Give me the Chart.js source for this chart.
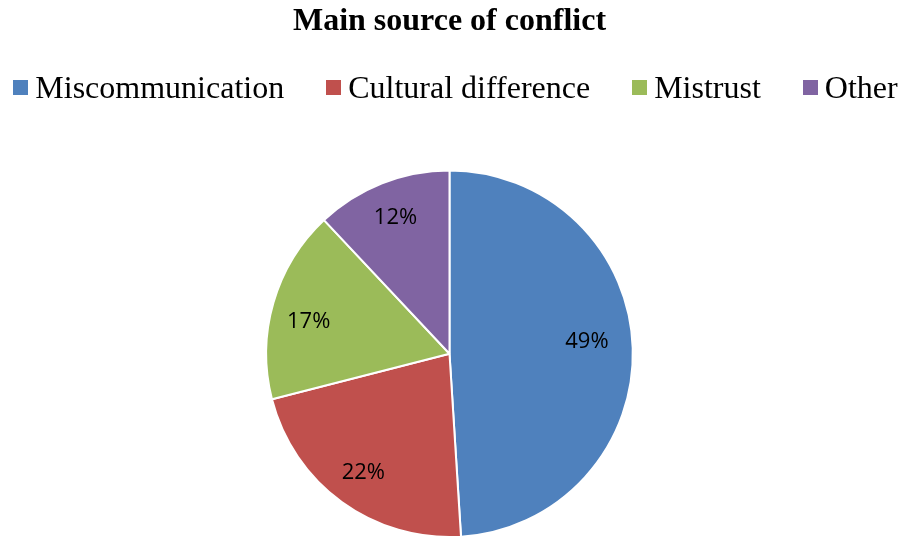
<!DOCTYPE html>
<html>
<head>
<meta charset="utf-8">
<script src="https://cdn.jsdelivr.net/npm/chart.js@4/dist/chart.umd.min.js"></script>
<style>
  html, body { margin: 0; padding: 0; background: #fff; }
  #wrap { position: relative; width: 903px; height: 538px; }
  #legend {
    position: absolute; left: 0; right: 0; top: 71px;
    display: flex; justify-content: center; gap: 42px;
    font: 32px/32px 'Liberation Serif', serif; color: #000;
    padding-left: 8px;
  }
  #legend span.item { display: flex; align-items: center; white-space: nowrap; }
  #legend span.box { display: inline-block; width: 15px; height: 15px; margin-right: 7px; }
</style>
</head>
<body>
<div id="wrap">
  <canvas id="pie"></canvas>
  <div id="legend"></div>
</div>
<script>
var sources = ["Miscommunication", "Cultural difference", "Mistrust", "Other"];
var shares = [49, 22, 17, 12];
var colours = ["#4F81BD", "#C0504D", "#9BBB59", "#8064A2"];

// legend row under the title
var legendBox = document.getElementById("legend");
sources.forEach(function (name, i) {
    var item = document.createElement("span");
    item.className = "item";
    var box = document.createElement("span");
    box.className = "box";
    box.style.background = colours[i];
    item.appendChild(box);
    item.appendChild(document.createTextNode(name));
    legendBox.appendChild(item);
});

// percent text inside each slice
var sliceLabels = {
    id: "sliceLabels",
    afterDatasetsDraw: function (chart) {
        var ctx = chart.ctx;
        var meta = chart.getDatasetMeta(0);
        var nudge = [-8, 0, 9, 0];  // small vertical tweaks per slice
        ctx.save();
        ctx.font = "22px 'Open Sans'";
        ctx.fillStyle = "#000";
        ctx.textAlign = "center";
        ctx.textBaseline = "middle";
        meta.data.forEach(function (arc, i) {
            var p = arc.getProps(["x", "y", "startAngle", "endAngle", "outerRadius"]);
            var mid = (p.startAngle + p.endAngle) / 2;
            var r = p.outerRadius * (i == 0 ? 0.75 : 0.8);
            ctx.fillText(shares[i] + "%", p.x + Math.cos(mid) * r, p.y + Math.sin(mid) * r + nudge[i]);
        });
        ctx.restore();
    }
};

var pieChart = new Chart(document.getElementById("pie"), {
    type: "pie",
    data: {
        labels: sources,
        datasets: [{
            data: shares,
            backgroundColor: colours,
            borderColor: "#fff",
            borderWidth: 2
        }]
    },
    options: {
        responsive: true,
        maintainAspectRatio: false,
        animation: false,
        layout: { padding: { left: 0, right: 4 } },
        plugins: {
            title: {
                display: true,
                text: "Main source of conflict",
                color: "#000",
                font: { family: "'Liberation Serif'", size: 32, weight: "bold" },
                padding: { top: 3, bottom: 128 }
            },
            legend: { display: false },
            tooltip: { enabled: false }
        }
    },
    plugins: [sliceLabels]
});
</script>
</body>
</html>
